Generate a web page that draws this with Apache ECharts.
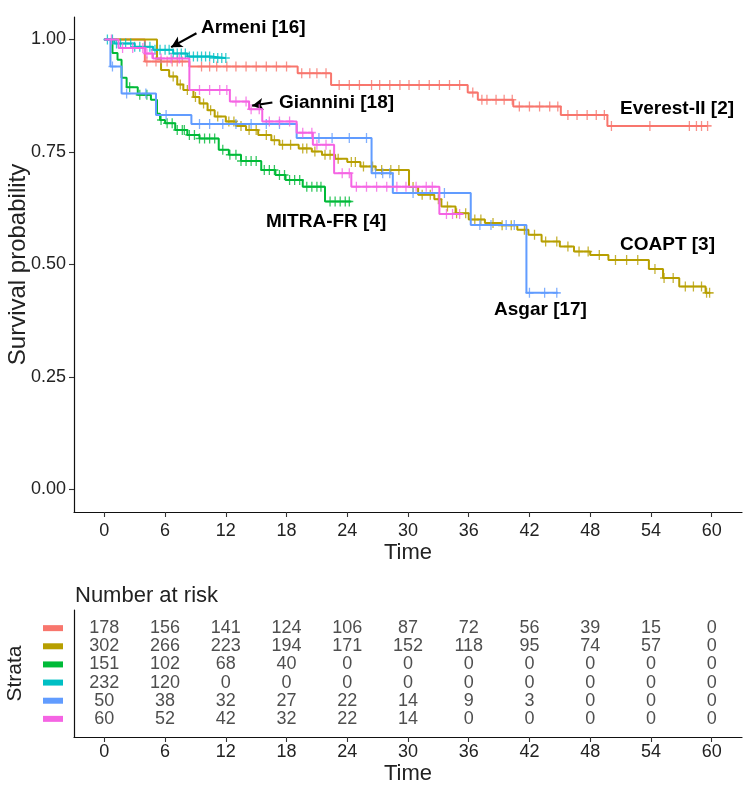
<!DOCTYPE html>
<html><head><meta charset="utf-8">
<script src="https://cdn.jsdelivr.net/npm/echarts@6/dist/echarts.min.js"></script>
<style>html,body{margin:0;padding:0;background:#fff}#c{width:750px;height:792px}</style>
</head><body><div id="c"></div>
<script>
// ---------- DATA ----------
const strata = ['Everest-II', 'COAPT', 'MITRA-FR', 'Armeni', 'Asgar', 'Giannini'];
const months = [0, 6, 12, 18, 24, 30, 36, 42, 48, 54, 60];
const survTicks = [0, 0.25, 0.5, 0.75, 1];

// Kaplan-Meier step points (time, survival)
const everestT = [0, 4.0, 8.4, 19.1, 22.4, 35.9, 36.9, 40.4, 45.1, 49.7, 59.6];
const everestS = [1, 0.951, 0.940, 0.925, 0.899, 0.882, 0.866, 0.851, 0.832, 0.808, 0.808];
const everestCens = [4.2, 5.1, 5.6, 6.2, 6.7, 7.2, 7.7, 9.6, 10.4, 11.1, 12.1, 13.0, 14.0, 15.0, 16.0, 17.0, 18.0, 19.5, 20.3, 21.0, 21.9, 23.2, 24.2, 25.2, 26.4, 27.2, 28.2, 29.2, 30.1, 31.1, 32.1, 33.1, 34.1, 35.1, 36.4, 37.3, 37.8, 38.7, 39.5, 40.3, 41.0, 42.0, 43.0, 44.0, 44.8, 45.8, 46.7, 47.7, 48.6, 49.4, 50.1, 53.9, 57.8, 58.5, 59.0, 59.6];

const coaptT = [0, 5.2, 5.6, 6.4, 7.2, 7.8, 8.8, 9.4, 10.2, 10.9, 12.0, 13.0, 14.0, 15.2, 16.5, 17.3, 19.2, 20.5, 21.5, 22.8, 24.0, 25.3, 26.8, 30.1, 31.0, 32.6, 33.3, 34.7, 36.0, 37.6, 39.2, 40.8, 41.9, 43.2, 45.0, 46.4, 48.0, 49.8, 53.8, 55.2, 56.8, 59.4, 59.8];
const coaptS = [1, 0.957, 0.932, 0.918, 0.900, 0.888, 0.872, 0.858, 0.843, 0.829, 0.818, 0.808, 0.799, 0.788, 0.776, 0.766, 0.758, 0.751, 0.744, 0.735, 0.728, 0.718, 0.710, 0.672, 0.655, 0.645, 0.629, 0.614, 0.600, 0.592, 0.587, 0.577, 0.566, 0.551, 0.540, 0.529, 0.521, 0.510, 0.490, 0.470, 0.451, 0.437, 0.437];
const coaptCens = [6.8, 7.5, 8.2, 9.0, 9.8, 10.5, 11.2, 12.3, 12.8, 13.5, 14.3, 15.0, 16.0, 16.8, 17.6, 18.4, 19.6, 20.0, 20.8, 21.8, 22.3, 23.1, 24.4, 24.8, 25.6, 26.5, 27.4, 28.3, 29.1, 30.5, 31.4, 32.2, 33.0, 33.9, 34.8, 35.7, 36.6, 37.2, 38.4, 39.3, 40.2, 41.5, 42.5, 43.6, 44.7, 45.8, 46.9, 47.8, 48.9, 50.5, 51.6, 52.7, 54.4, 55.3, 56.2, 57.4, 58.2, 59.0, 59.5, 59.8];

const mitraT = [0, 0.8, 1.3, 1.7, 2.2, 3.3, 4.6, 5.2, 5.5, 6.0, 7.0, 8.2, 9.4, 11.3, 12.3, 13.5, 15.5, 16.9, 17.9, 19.6, 21.8, 24.4];
const mitraS = [1, 0.970, 0.955, 0.915, 0.894, 0.877, 0.866, 0.835, 0.821, 0.814, 0.799, 0.788, 0.780, 0.755, 0.744, 0.730, 0.710, 0.699, 0.688, 0.673, 0.640, 0.640];
const mitraCens = [2.5, 3.5, 4.2, 5.6, 6.2, 6.7, 7.2, 7.7, 7.9, 8.4, 8.9, 9.4, 9.9, 10.4, 10.9, 11.7, 12.4, 13.0, 13.5, 14.0, 14.5, 15.0, 15.8, 16.3, 16.8, 17.3, 17.8, 18.3, 18.8, 19.3, 20.0, 20.5, 21.0, 21.4, 22.3, 22.8, 23.3, 23.8, 24.2];

const armeniT = [0, 1.0, 3.0, 4.8, 6.8, 8.2, 10.5, 12.0];
const armeniS = [1, 0.991, 0.984, 0.977, 0.969, 0.962, 0.959, 0.959];
const armeniCens = [0.3, 0.8, 1.2, 1.6, 2.1, 2.6, 3.0, 3.5, 4.0, 4.5, 5.0, 5.5, 6.0, 6.4, 6.8, 7.2, 7.6, 8.0, 8.4, 8.8, 9.2, 9.6, 10.0, 10.4, 10.8, 11.2, 11.6, 12.0];

const asgarT = [0, 0.6, 1.7, 5.1, 8.6, 19.0, 26.4, 28.5, 36.2, 41.7, 44.8];
const asgarS = [1, 0.940, 0.880, 0.832, 0.812, 0.781, 0.703, 0.659, 0.588, 0.437, 0.437];
const asgarCens = [0.8, 2.2, 4.1, 6.1, 9.4, 10.4, 11.7, 13.0, 14.5, 16.0, 17.3, 21.2, 22.5, 24.2, 25.9, 26.8, 27.5, 28.2, 30.5, 33.6, 37.1, 38.2, 39.7, 40.5, 42.0, 43.5, 44.7];

const gianniniT = [0, 1.4, 4.0, 4.8, 8.4, 12.4, 14.3, 15.6, 19.0, 20.6, 22.7, 24.4, 33.1, 35.4];
const gianniniS = [1, 0.981, 0.969, 0.958, 0.888, 0.862, 0.845, 0.818, 0.793, 0.766, 0.703, 0.673, 0.612, 0.612];
const gianniniCens = [0.7, 1.8, 2.8, 3.8, 4.2, 4.7, 5.6, 6.6, 7.4, 9.4, 10.4, 11.4, 12.1, 13.0, 14.0, 14.5, 15.3, 16.3, 17.3, 18.3, 19.6, 20.5, 21.0, 21.9, 23.5, 24.2, 24.9, 25.9, 26.9, 27.9, 28.9, 29.8, 30.8, 31.8, 32.4, 33.8, 34.4, 35.1];

// Number at risk
const riskEverest = [178, 156, 141, 124, 106, 87, 72, 56, 39, 15, 0];
const riskCoapt = [302, 266, 223, 194, 171, 152, 118, 95, 74, 57, 0];
const riskMitra = [151, 102, 68, 40, 0, 0, 0, 0, 0, 0, 0];
const riskArmeni = [232, 120, 0, 0, 0, 0, 0, 0, 0, 0, 0];
const riskAsgar = [50, 38, 32, 27, 22, 14, 9, 3, 0, 0, 0];
const riskGiannini = [60, 52, 42, 32, 22, 14, 0, 0, 0, 0, 0];

// ---------- BUILD ----------
const colors = ['#F8766D', '#B79F00', '#00BA38', '#00BFC4', '#619CFF', '#F564E3'];
const curves = [
  [everestT, everestS, everestCens],
  [coaptT, coaptS, coaptCens],
  [mitraT, mitraS, mitraCens],
  [armeniT, armeniS, armeniCens],
  [asgarT, asgarS, asgarCens],
  [gianniniT, gianniniS, gianniniCens]
];
const risk = [riskEverest, riskCoapt, riskMitra, riskArmeni, riskAsgar, riskGiannini];

function stepVal(T, S, t) {
  let v = S[0];
  for (let i = 0; i < T.length; i++) { if (T[i] <= t) v = S[i]; }
  return v;
}
const FONT = 'Liberation Sans, Arial, Helvetica, sans-serif';
const plus = 'path://M-1,-0.16H1V0.16H-1Z M-0.16,-1H0.16V1H-0.16Z';

const series = [];
curves.forEach((c, k) => {
  const [T, S, C] = c;
  series.push({
    name: strata[k], type: 'line', xAxisIndex: 0, yAxisIndex: 0,
    step: 'end', showSymbol: false, symbol: 'none',
    data: T.map((t, i) => [t, S[i]]),
    lineStyle: { color: colors[k], width: 2 }, itemStyle: { color: colors[k] },
    z: 2 + k, silent: true, animation: false
  });
  series.push({
    name: strata[k] + ' censor', type: 'scatter', xAxisIndex: 0, yAxisIndex: 0,
    symbol: plus, symbolSize: [8, 10],
    data: C.map(t => [t, stepVal(T, S, t)]),
    itemStyle: { color: colors[k] }, z: 2 + k, silent: true, animation: false
  });
});

// Arrows (in data coordinates)
series.push({
  type: 'line', xAxisIndex: 0, yAxisIndex: 0, data: [], silent: true, animation: false,
  markLine: {
    silent: true, animation: false, symbol: ['none', 'arrow'], symbolSize: [9, 11],
    label: { show: false },
    lineStyle: { color: '#000', width: 2.2, type: 'solid' },
    data: [
      [{ coord: [9.1, 1.014] }, { coord: [6.6, 0.983] }],
      [{ coord: [16.6, 0.860] }, { coord: [14.6, 0.853] }]
    ]
  }
});

// Risk table numbers
risk.forEach((r, k) => {
  series.push({
    type: 'scatter', xAxisIndex: 1, yAxisIndex: 1, symbolSize: 1,
    itemStyle: { color: 'rgba(0,0,0,0)' }, silent: true, animation: false,
    data: months.map((m, i) => [m, k + 1, r[i]]),
    label: {
      show: true, position: 'inside', color: '#222', fontSize: 18, fontFamily: FONT,
      formatter: p => String(p.value[2])
    }
  });
});

const rich = {};
colors.forEach((c, k) => { rich['c' + k] = { backgroundColor: c, width: 20, height: 6, lineHeight: 6 }; });

const axisText = { color: '#222', fontSize: 18, fontFamily: FONT };
const axLine = { show: true, onZero: false, lineStyle: { color: '#111', width: 1.2 } };
const axTick = { show: true, length: 5, lineStyle: { color: '#333', width: 1.1 } };

const option = {
  backgroundColor: '#fff',
  animation: false,
  grid: [
    { left: 74, top: 17, width: 668, height: 495, containLabel: false, outerBoundsMode: 'none' },
    { left: 74, top: 610, width: 668, height: 127, containLabel: false, outerBoundsMode: 'none' }
  ],
  xAxis: [
    {
      gridIndex: 0, type: 'value', min: -3, max: 63,
      axisLine: axLine, splitLine: { show: false },
      axisTick: Object.assign({ customValues: months }, axTick),
      axisLabel: Object.assign({ customValues: months, margin: 10 }, axisText),
      name: 'Time', nameLocation: 'middle', nameGap: 30, nameMoveOverlap: false,
      nameTextStyle: { color: '#222', fontSize: 22, fontFamily: FONT }
    },
    {
      gridIndex: 1, type: 'value', min: -3, max: 63,
      axisLine: axLine, splitLine: { show: false },
      axisTick: Object.assign({ customValues: months }, axTick),
      axisLabel: Object.assign({ customValues: months, margin: 6 }, axisText),
      name: 'Time', nameLocation: 'middle', nameGap: 26, nameMoveOverlap: false,
      nameTextStyle: { color: '#222', fontSize: 22, fontFamily: FONT }
    }
  ],
  yAxis: [
    {
      gridIndex: 0, type: 'value', min: -0.05, max: 1.05,
      axisLine: axLine, splitLine: { show: false },
      axisTick: Object.assign({ customValues: survTicks }, axTick),
      axisLabel: Object.assign({ customValues: survTicks, margin: 8, formatter: v => v.toFixed(2) }, axisText),
      name: 'Survival probability', nameLocation: 'middle', nameGap: 44, nameMoveOverlap: false,
      nameTextStyle: { color: '#222', fontSize: 24, fontFamily: FONT }
    },
    {
      gridIndex: 1, type: 'value', min: 0, max: 7, interval: 1, inverse: true,
      axisLine: axLine, splitLine: { show: false }, axisTick: { show: false },
      axisLabel: {
        margin: 11, rich: rich,
        formatter: v => (v >= 1 && v <= 6) ? '{c' + (v - 1) + '| }' : ''
      },
      name: 'Strata', nameLocation: 'middle', nameGap: 48, nameMoveOverlap: false,
      nameTextStyle: { color: '#222', fontSize: 21, fontFamily: FONT }
    }
  ],
  graphic: [
    { type: 'text', left: 75, top: 585, style: { text: 'Number at risk', font: '22px ' + FONT, fill: '#222' } },
    { type: 'text', x: 201, y: 28, style: { text: 'Armeni [16]', font: 'bold 19px ' + FONT, fill: '#000', align: 'left', verticalAlign: 'middle' } },
    { type: 'text', x: 279, y: 103, style: { text: 'Giannini [18]', font: 'bold 19px ' + FONT, fill: '#000', align: 'left', verticalAlign: 'middle' } },
    { type: 'text', x: 620, y: 109, style: { text: 'Everest-II [2]', font: 'bold 19px ' + FONT, fill: '#000', align: 'left', verticalAlign: 'middle' } },
    { type: 'text', x: 266, y: 222, style: { text: 'MITRA-FR [4]', font: 'bold 19px ' + FONT, fill: '#000', align: 'left', verticalAlign: 'middle' } },
    { type: 'text', x: 620, y: 245, style: { text: 'COAPT [3]', font: 'bold 19px ' + FONT, fill: '#000', align: 'left', verticalAlign: 'middle' } },
    { type: 'text', x: 494, y: 310, style: { text: 'Asgar [17]', font: 'bold 19px ' + FONT, fill: '#000', align: 'left', verticalAlign: 'middle' } }
  ],
  series: series
};

const chart = echarts.init(document.getElementById('c'), null, { renderer: 'canvas', width: 750, height: 792 });
chart.setOption(option);
</script>
</body></html>
